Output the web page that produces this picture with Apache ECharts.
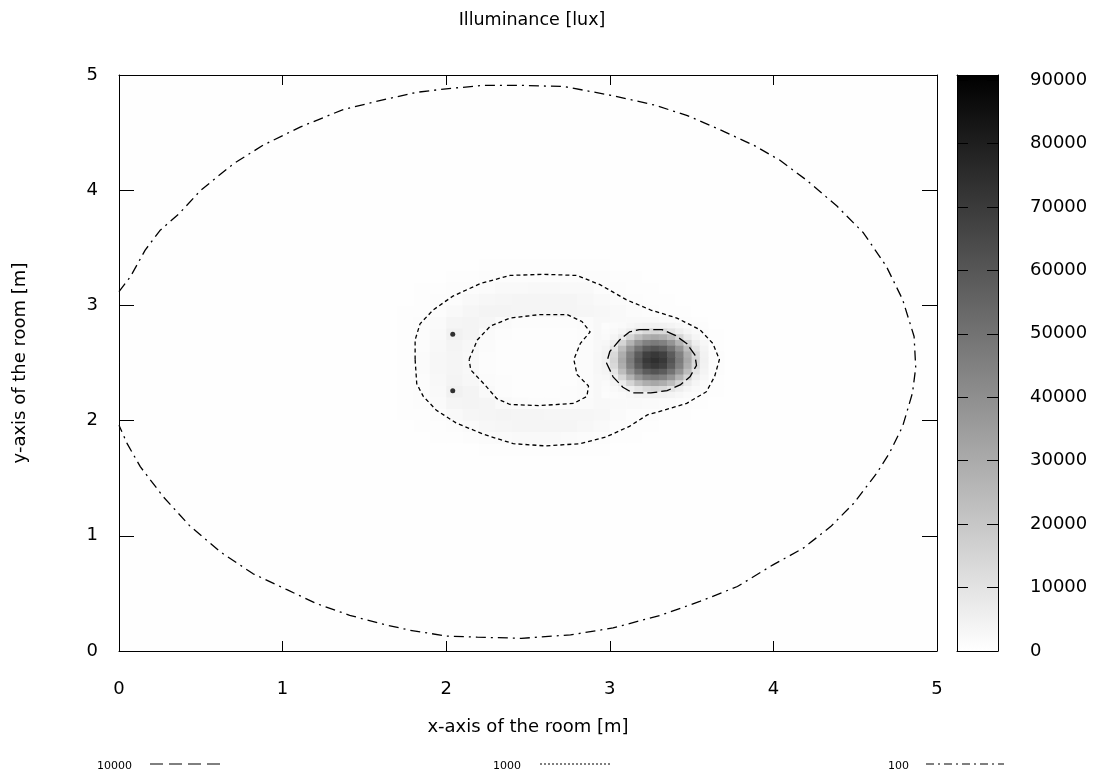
<!DOCTYPE html>
<html><head><meta charset="utf-8">
<script src="https://cdn.jsdelivr.net/npm/echarts@6/dist/echarts.min.js"></script>
<style>html,body{margin:0;padding:0;background:#fff}#c{width:1097px;height:776px}</style>
</head><body><div id="c"></div>
<script>
// ---------- axis ticks ----------
const xTicks = [0, 1, 2, 3, 4, 5];
const yTicks = [0, 1, 2, 3, 4, 5];
const cbTicks = [0, 10000, 20000, 30000, 40000, 50000, 60000, 70000, 80000, 90000];
const cbMax = 90800;

// ---------- illuminance field, coarse cells (0.1 m) around the lamp ring ----------
const ringX = [1.75, 1.85, 1.95, 2.05, 2.15, 2.25, 2.35, 2.45, 2.55, 2.65, 2.75, 2.85, 2.95, 3.05, 3.15, 3.25, 3.35, 3.45, 3.55, 3.65, 3.75];
const ringY = [3.35, 3.25, 3.15, 3.05, 2.95, 2.85, 2.75, 2.65, 2.55, 2.45, 2.35, 2.25, 2.15, 2.05, 1.95, 1.85, 1.75];
const ringValues = [
  [250,300,350,400,450,550,650,750,800,800,750,650,550,450,400,350,300,300,250,250,200],
  [300,400,500,600,750,900,1050,1150,1200,1200,1150,1050,900,750,600,500,400,350,300,250,250],
  [400,550,700,900,1150,1600,2000,2300,2500,2500,2300,2000,1200,950,850,650,500,400,350,300,250],
  [450,650,900,1200,2000,2800,3300,3600,3700,3700,3500,3000,2300,1300,950,750,600,450,400,300,250],
  [550,800,1200,2200,3300,3800,3900,3700,3500,3400,3400,3300,2900,2000,1400,1100,850,650,500,350,300],
  [650,1000,1800,3400,4000,3300,1800,1100,900,900,1000,1500,2500,2300,2100,2000,1600,1100,750,500,350],
  [700,1100,2300,5000,3800,1800,1000,800,750,750,850,1200,2400,2600,3000,3400,3000,1900,1000,650,400],
  [750,1200,2600,4000,3000,1300,850,700,650,650,750,1300,2600,3400,4500,5000,4500,3100,1500,800,450],
  [750,1250,2700,3600,2500,1100,800,650,650,650,800,1500,2800,4000,5500,6000,5500,3800,1800,900,450],
  [750,1250,2700,3600,2500,1100,800,650,650,650,800,1500,2800,4000,5500,6000,5500,3800,1800,900,450],
  [750,1200,2600,4000,3000,1400,900,700,650,650,800,1300,2600,3400,4500,5000,4500,3100,1500,800,450],
  [700,1100,2300,5000,3800,2000,1100,850,750,750,900,1300,2400,2600,3000,3400,3000,1900,1000,650,400],
  [650,950,1700,3400,4000,3500,2300,1400,1100,1000,1200,1800,2600,2200,2000,1800,1400,1000,700,500,350],
  [550,750,1100,2000,3200,3700,3800,3600,3400,3300,3300,3200,2800,1800,1200,950,750,600,450,350,300],
  [450,600,800,1050,1800,2700,3200,3500,3600,3600,3400,2900,2200,1200,850,650,500,400,350,300,250],
  [350,450,550,700,900,1300,1700,2000,2100,2100,1900,1600,1100,800,600,500,400,350,300,250,200],
  [250,300,350,400,500,600,700,800,850,850,800,700,600,500,400,350,300,250,250,200,200]
];

// ---------- illuminance field, fine cells (0.05 m) around the bright spot ----------
const spotX = [2.975, 3.025, 3.075, 3.125, 3.175, 3.225, 3.275, 3.325, 3.375, 3.425, 3.475, 3.525, 3.575];
const spotY = [2.825, 2.775, 2.725, 2.675, 2.625, 2.575, 2.525, 2.475, 2.425, 2.375, 2.325, 2.275, 2.225];
const spotValues = [
  [1100,1400,1900,2800,3800,4600,5000,4600,3800,2800,1900,1400,1100],
  [1400,2000,3500,6000,9500,13500,15000,13500,9500,6000,3500,2000,1400],
  [1900,3500,7000,15000,23500,29000,31000,29000,23500,15000,7000,3500,1900],
  [2800,6000,15000,27000,38000,45000,47000,45000,38000,27000,15000,6000,2800],
  [3800,9500,23500,38000,50000,58000,61000,58000,50000,38000,23500,9500,3800],
  [4600,13500,29000,45000,58000,68000,71000,68000,58000,45000,29000,13500,4600],
  [5000,15000,31000,47000,61000,71000,74000,71000,61000,47000,31000,15000,5000],
  [4600,13500,29000,45000,58000,68000,71000,68000,58000,45000,29000,13500,4600],
  [3800,9500,23500,38000,50000,58000,61000,58000,50000,38000,23500,9500,3800],
  [2800,6000,15000,27000,38000,45000,47000,45000,38000,27000,15000,6000,2800],
  [1900,3500,7000,15000,23500,29000,31000,29000,23500,15000,7000,3500,1900],
  [1400,2000,3500,6000,9500,13500,15000,13500,9500,6000,3500,2000,1400],
  [1100,1400,1900,2800,3800,4600,5000,4600,3800,2800,1900,1400,1100]
];

// ---------- contour lines (x [m], y [m]) ----------
const contour100 = [[0.0,3.12],[0.07,3.25],[0.16,3.48],[0.25,3.65],[0.37,3.80],[0.50,4.00],[0.70,4.23],[0.88,4.39],[1.11,4.55],[1.37,4.70],[1.60,4.78],[1.82,4.85],[2.00,4.88],[2.23,4.91],[2.46,4.91],[2.72,4.90],[3.02,4.82],[3.27,4.74],[3.47,4.65],[3.65,4.54],[3.88,4.39],[4.04,4.26],[4.20,4.09],[4.39,3.86],[4.55,3.63],[4.69,3.34],[4.79,3.05],[4.86,2.73],[4.87,2.46],[4.85,2.24],[4.79,1.95],[4.71,1.72],[4.63,1.54],[4.49,1.28],[4.35,1.08],[4.18,0.89],[4.00,0.75],[3.78,0.56],[3.55,0.43],[3.31,0.31],[3.02,0.20],[2.76,0.14],[2.46,0.11],[2.19,0.12],[2.00,0.13],[1.78,0.18],[1.62,0.23],[1.41,0.31],[1.21,0.41],[1.03,0.53],[0.82,0.67],[0.62,0.86],[0.43,1.09],[0.27,1.34],[0.13,1.60],[0.05,1.80],[0.0,1.96]];
const contour1000Outer = [[1.81,2.53],[1.81,2.70],[1.84,2.84],[1.92,2.96],[2.04,3.08],[2.21,3.19],[2.39,3.26],[2.59,3.27],[2.80,3.26],[2.94,3.18],[3.10,3.05],[3.25,2.96],[3.41,2.89],[3.55,2.79],[3.63,2.67],[3.67,2.53],[3.64,2.38],[3.59,2.25],[3.47,2.15],[3.33,2.09],[3.23,2.05],[3.12,1.95],[2.98,1.86],[2.82,1.80],[2.61,1.78],[2.41,1.80],[2.23,1.88],[2.06,1.98],[1.94,2.09],[1.86,2.21],[1.82,2.32],[1.81,2.53]];
const contour1000Inner = [[2.14,2.53],[2.19,2.70],[2.27,2.82],[2.39,2.89],[2.57,2.92],[2.74,2.92],[2.83,2.86],[2.88,2.77],[2.82,2.67],[2.78,2.53],[2.80,2.40],[2.87,2.30],[2.86,2.21],[2.78,2.15],[2.57,2.13],[2.39,2.14],[2.31,2.19],[2.23,2.32],[2.15,2.44],[2.14,2.53]];
const contour10000 = [[3.18,2.79],[3.32,2.79],[3.40,2.74],[3.47,2.67],[3.52,2.57],[3.53,2.48],[3.49,2.38],[3.43,2.31],[3.35,2.26],[3.25,2.24],[3.14,2.24],[3.08,2.29],[3.02,2.38],[2.98,2.50],[3.00,2.60],[3.06,2.70],[3.12,2.77],[3.18,2.79]];
const peaks10000 = [[2.04,2.75],[2.04,2.26]];

// ---------- texts ----------
const titleText = 'Illuminance [lux]';
const xName = 'x-axis of the room [m]';
const yName = 'y-axis of the room [m]';
const legendLabels = ['10000', '1000', '100'];

// ---------- build ----------
function gridData(xs, ys, vals) {
  const out = [];
  for (let r = 0; r < ys.length; r++)
    for (let c = 0; c < xs.length; c++) out.push([xs[c], ys[r], vals[r][c]]);
  return out;
}
function cellRenderer(step) {
  return function (params, api) {
    const x = api.value(0), y = api.value(1);
    const p0 = api.coord([x - step / 2, y + step / 2]);
    const p1 = api.coord([x + step / 2, y - step / 2]);
    return { type: 'rect', shape: { x: p0[0], y: p0[1], width: p1[0] - p0[0] + 0.6, height: p1[1] - p0[1] + 0.6 },
      style: { fill: api.visual('color') } };
  };
}
const FONT = 'DejaVu Sans, sans-serif';
const black = '#000';
function contourSeries(name, data, dash) {
  return { type: 'line', name, data, xAxisIndex: 0, yAxisIndex: 0, showSymbol: false, symbol: 'none',
    lineStyle: { color: black, width: 1.3, type: dash }, silent: true, z: 5, animation: false };
}
const lineNoZero = { show: true, onZero: false, lineStyle: { color: black, width: 1 } };
const plainNum = (v) => String(v);

const chart = echarts.init(document.getElementById('c'), null, { renderer: 'canvas' });
const mainAxisCommon = { type: 'value', min: 0, max: 5, interval: 1, splitLine: { show: false }, z: 10, axisLine: lineNoZero };
const option = {
  backgroundColor: '#fff',
  animation: false,
  textStyle: { fontFamily: FONT, color: black },
  title: { text: titleText, left: 527, top: 6, textAlign: 'center',
    textStyle: { fontFamily: FONT, fontSize: 17.5, fontWeight: 'normal', color: black } },
  grid: [
    { left: 119, top: 75, width: 818, height: 576, show: true, backgroundColor: '#fefefe', borderWidth: 0 },
    { left: 957, top: 75, width: 41, height: 576, show: false }
  ],
  xAxis: [
    Object.assign({}, mainAxisCommon, { gridIndex: 0, position: 'bottom',
      name: xName, nameLocation: 'middle', nameGap: 67,
      nameTextStyle: { fontFamily: FONT, fontSize: 18, color: black },
      axisTick: { show: true, inside: true, length: 10, lineStyle: { color: black }, customValues: xTicks },
      axisLabel: { show: true, margin: 29, fontSize: 18, color: black, fontFamily: FONT, customValues: xTicks, formatter: plainNum } }),
    Object.assign({}, mainAxisCommon, { gridIndex: 0, position: 'top',
      axisTick: { show: true, inside: true, length: 10, lineStyle: { color: black }, customValues: xTicks },
      axisLabel: { show: false } }),
    { type: 'category', gridIndex: 1, data: ['cb'], position: 'bottom', z: 10,
      axisLine: lineNoZero, axisTick: { show: false }, axisLabel: { show: false } },
    { type: 'category', gridIndex: 1, data: ['cb'], position: 'top', z: 10,
      axisLine: lineNoZero, axisTick: { show: false }, axisLabel: { show: false } }
  ],
  yAxis: [
    Object.assign({}, mainAxisCommon, { gridIndex: 0, position: 'left',
      name: yName, nameLocation: 'middle', nameGap: 90,
      nameTextStyle: { fontFamily: FONT, fontSize: 18, color: black },
      axisTick: { show: true, inside: true, length: 15, lineStyle: { color: black }, customValues: yTicks },
      axisLabel: { show: true, margin: 21, fontSize: 18, color: black, fontFamily: FONT, customValues: yTicks, formatter: plainNum } }),
    Object.assign({}, mainAxisCommon, { gridIndex: 0, position: 'right',
      axisTick: { show: true, inside: true, length: 15, lineStyle: { color: black }, customValues: yTicks },
      axisLabel: { show: false } }),
    { type: 'value', gridIndex: 1, min: 0, max: cbMax, position: 'right', z: 10, splitLine: { show: false },
      axisLine: lineNoZero,
      axisTick: { show: true, inside: true, length: 11, lineStyle: { color: black }, customValues: cbTicks },
      axisLabel: { show: true, margin: 32, fontSize: 18, color: black, fontFamily: FONT, customValues: cbTicks, formatter: plainNum } },
    { type: 'value', gridIndex: 1, min: 0, max: cbMax, position: 'left', z: 10, splitLine: { show: false },
      axisLine: lineNoZero,
      axisTick: { show: true, inside: true, length: 11, lineStyle: { color: black }, customValues: cbTicks },
      axisLabel: { show: false } }
  ],
  visualMap: { show: false, type: 'continuous', min: 0, max: cbMax, dimension: 2, seriesIndex: [0, 1],
    inRange: { color: ['#ffffff', '#000000'] } },
  series: [
    { type: 'custom', name: 'field', xAxisIndex: 0, yAxisIndex: 0, renderItem: cellRenderer(ringX[1] - ringX[0]),
      data: gridData(ringX, ringY, ringValues), encode: { x: 0, y: 1 }, silent: true, z: 1 },
    { type: 'custom', name: 'field', xAxisIndex: 0, yAxisIndex: 0, renderItem: cellRenderer(spotX[1] - spotX[0]),
      data: gridData(spotX, spotY, spotValues), encode: { x: 0, y: 1 }, silent: true, z: 2 },
    contourSeries('100', contour100, [10, 5, 2, 5]),
    contourSeries('1000', contour1000Outer, [4, 3]),
    contourSeries('1000', contour1000Inner, [4, 3]),
    contourSeries('10000', contour10000, [10, 4]),
    { type: 'scatter', name: '10000', data: peaks10000, xAxisIndex: 0, yAxisIndex: 0, symbolSize: 5,
      itemStyle: { color: black }, silent: true, z: 6 },
    { type: 'bar', name: 'colorbar', xAxisIndex: 2, yAxisIndex: 2, data: [cbMax], barWidth: '100%', silent: true,
      itemStyle: { color: { type: 'linear', x: 0, y: 0, x2: 0, y2: 1,
        colorStops: [{ offset: 0, color: '#000000' }, { offset: 1, color: '#ffffff' }] } } }
  ],
  graphic: [
    { type: 'text', x: 97, y: 766, style: { text: legendLabels[0], font: '11px ' + FONT, fill: black, verticalAlign: 'middle' } },
    { type: 'line', shape: { x1: 150, y1: 764, x2: 224, y2: 764 }, style: { stroke: black, lineWidth: 1, lineDash: [13, 6] } },
    { type: 'text', x: 493, y: 766, style: { text: legendLabels[1], font: '11px ' + FONT, fill: black, verticalAlign: 'middle' } },
    { type: 'line', shape: { x1: 540, y1: 764, x2: 610, y2: 764 }, style: { stroke: black, lineWidth: 1, lineDash: [2, 2] } },
    { type: 'text', x: 888, y: 766, style: { text: legendLabels[2], font: '11px ' + FONT, fill: black, verticalAlign: 'middle' } },
    { type: 'line', shape: { x1: 926, y1: 764, x2: 1004, y2: 764 }, style: { stroke: black, lineWidth: 1, lineDash: [8, 4, 2, 4] } }
  ]
};
chart.setOption(option);
</script></body></html>
